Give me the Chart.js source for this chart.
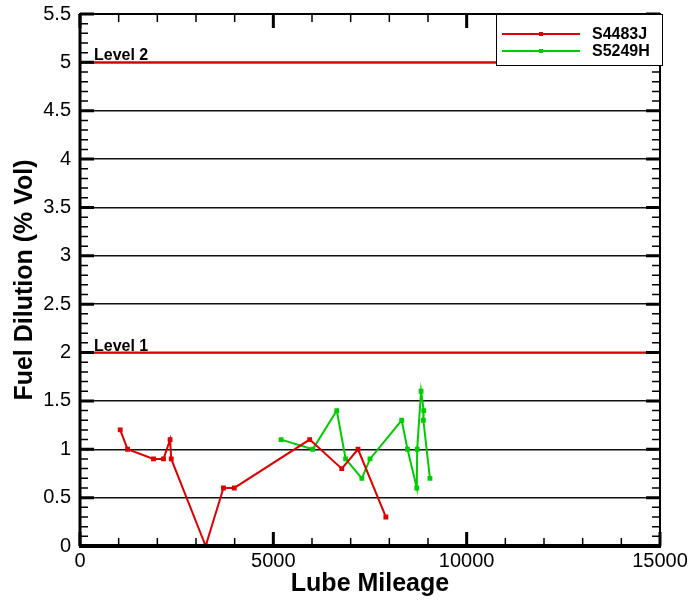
<!DOCTYPE html>
<html>
<head>
<meta charset="utf-8">
<script src="https://cdn.jsdelivr.net/npm/chart.js@4/dist/chart.umd.min.js"></script>
<style>
  html, body { margin: 0; padding: 0; background: #fff; }
  #wrap { width: 693px; height: 600px; }
</style>
</head>
<body>
<div id="wrap"><canvas id="fuelChart"></canvas></div>
<script>
// values
const redName = "S4483J";
const redMiles = [1040, 1230, 1900, 2160, 2330, 2360, 3250, 3710, 3990, 5940, 6770, 7190, 7910];
const redFuel = [1.2, 1.0, 0.9, 0.9, 1.1, 0.9, 0.0, 0.6, 0.6, 1.1, 0.8, 1.0, 0.3];

const greenName = "S5249H";
const greenMiles = [5200, 6020, 6640, 6870, 7290, 7500, 8320, 8470, 8710, 8720, 8820, 8890, 8880, 9050];
const greenFuel = [1.1, 1.0, 1.4, 0.9, 0.7, 0.9, 1.3, 1.0, 0.6, 1.0, 1.6, 1.4, 1.3, 0.7];

const levelValues = [2, 5];
const levelNames = ["Level 1", "Level 2"];

const xMax = 15000;
const yMax = 5.5;

const RED = "#dd0000";
const GREEN = "#00cc00";
const FONT = "'Liberation Sans', Arial, sans-serif";

function toPoints(xs, ys) {
    return xs.map((x, i) => ({ x: x, y: ys[i] }));
}

const datasets = [];
levelValues.forEach((v, i) => {
    datasets.push({
        label: levelNames[i],
        data: [{ x: 0, y: v }, { x: xMax, y: v }],
        borderColor: RED,
        borderWidth: 2,
        pointRadius: 0,
        showLine: true,
        isLevel: true
    });
});
datasets.push({
    label: redName,
    data: toPoints(redMiles, redFuel),
    borderColor: RED,
    backgroundColor: RED,
    borderWidth: 2,
    pointStyle: "rect",
    pointRadius: 2,
    showLine: true
});
datasets.push({
    label: greenName,
    data: toPoints(greenMiles, greenFuel),
    borderColor: GREEN,
    backgroundColor: GREEN,
    borderWidth: 2,
    pointStyle: "rect",
    pointRadius: 2,
    showLine: true
});

// frame, inward ticks, level labels and the legend box
const framePlugin = {
    id: "frame",
    afterDatasetsDraw(chart) {
        const ctx = chart.ctx;
        const a = chart.chartArea;
        const xs = chart.scales.x, ys = chart.scales.y;
        ctx.save();
        ctx.strokeStyle = "#000";

        // minor / major ticks on all four sides
        for (let k = 0; k <= 55; k++) {
            const y = ys.getPixelForValue(k / 10);
            const len = k % 5 === 0 ? 14 : 8;
            ctx.lineWidth = k % 5 === 0 ? 3 : 1.5;
            ctx.beginPath();
            ctx.moveTo(a.left, y); ctx.lineTo(a.left + len, y);
            ctx.moveTo(a.right, y); ctx.lineTo(a.right - len, y);
            ctx.stroke();
        }
        for (let k = 0; k <= 15; k++) {
            const x = xs.getPixelForValue(k * 1000);
            const len = k % 5 === 0 ? 14 : 8;
            ctx.lineWidth = k % 5 === 0 ? 3 : 1.5;
            ctx.beginPath();
            ctx.moveTo(x, a.bottom); ctx.lineTo(x, a.bottom - len);
            ctx.moveTo(x, a.top); ctx.lineTo(x, a.top + len);
            ctx.stroke();
        }

        // frame
        ctx.lineWidth = 2;
        ctx.strokeRect(a.left, a.top, a.right - a.left, a.bottom - a.top);
        ctx.lineWidth = 3;
        ctx.beginPath();
        ctx.moveTo(a.left, a.top); ctx.lineTo(a.left, a.bottom);
        ctx.stroke();
        ctx.lineWidth = 4;
        ctx.beginPath();
        ctx.moveTo(a.left - 1, a.bottom); ctx.lineTo(a.right + 1, a.bottom);
        ctx.stroke();

        // level labels
        ctx.fillStyle = "#000";
        ctx.font = "bold 16px " + FONT;
        ctx.textAlign = "left";
        ctx.textBaseline = "alphabetic";
        levelValues.forEach((v, i) => {
            ctx.fillText(levelNames[i], a.left + 14, ys.getPixelForValue(v) - 2);
        });

        // legend box in the top right corner
        const bx = a.left + 416, by = a.top, bw = 166, bh = 51;
        ctx.fillStyle = "#fff";
        ctx.fillRect(bx, by, bw, bh);
        ctx.lineWidth = 1;
        ctx.strokeRect(bx + 0.5, by + 0.5, bw, bh);
        const items = chart.data.datasets.filter(d => !d.isLevel);
        items.forEach((d, i) => {
            const y = by + 20 + i * 17;
            ctx.strokeStyle = d.borderColor;
            ctx.lineWidth = 2;
            ctx.beginPath();
            ctx.moveTo(bx + 6, y); ctx.lineTo(bx + 84, y);
            ctx.stroke();
            ctx.fillStyle = d.borderColor;
            ctx.fillRect(bx + 43, y - 2, 4, 4);
            ctx.fillStyle = "#000";
            ctx.font = "bold 16px " + FONT;
            ctx.textBaseline = "middle";
            ctx.fillText(d.label, bx + 96, y + 1);
        });
        ctx.restore();
    }
};

const ctx = document.getElementById("fuelChart").getContext("2d");
new Chart(ctx, {
    type: "scatter",
    data: { datasets: datasets },
    options: {
        responsive: true,
        maintainAspectRatio: false,
        animation: false,
        layout: { padding: { top: 14, right: 33, left: 0, bottom: 0 } },
        plugins: {
            legend: { display: false },
            tooltip: { enabled: false }
        },
        scales: {
            x: {
                type: "linear",
                min: 0,
                max: xMax,
                afterFit: s => { s.height = 54; s.paddingLeft = 0; s.paddingRight = 0; },
                ticks: {
                    stepSize: 5000,
                    color: "#000",
                    padding: 3,
                    maxRotation: 0,
                    callback: v => String(v),
                    font: { family: FONT, size: 20 }
                },
                grid: { display: false, drawTicks: false },
                border: { display: false },
                title: {
                    display: true,
                    text: "Lube Mileage",
                    color: "#000",
                    padding: { top: 0, bottom: 1 },
                    font: { family: FONT, size: 25, weight: "bold" }
                }
            },
            y: {
                min: 0,
                max: yMax,
                afterFit: s => { s.width = 80; s.paddingTop = 0; s.paddingBottom = 0; },
                ticks: {
                    stepSize: 0.5,
                    color: "#000",
                    padding: 9,
                    callback: v => String(v),
                    font: { family: FONT, size: 20 }
                },
                grid: { color: "#111", lineWidth: 1.5, drawTicks: false },
                border: { display: false },
                title: {
                    display: true,
                    text: "Fuel Dilution (% Vol)",
                    color: "#000",
                    padding: { top: 10, bottom: 0 },
                    font: { family: FONT, size: 25, weight: "bold" }
                }
            }
        }
    },
    plugins: [framePlugin]
});
</script>
</body>
</html>
